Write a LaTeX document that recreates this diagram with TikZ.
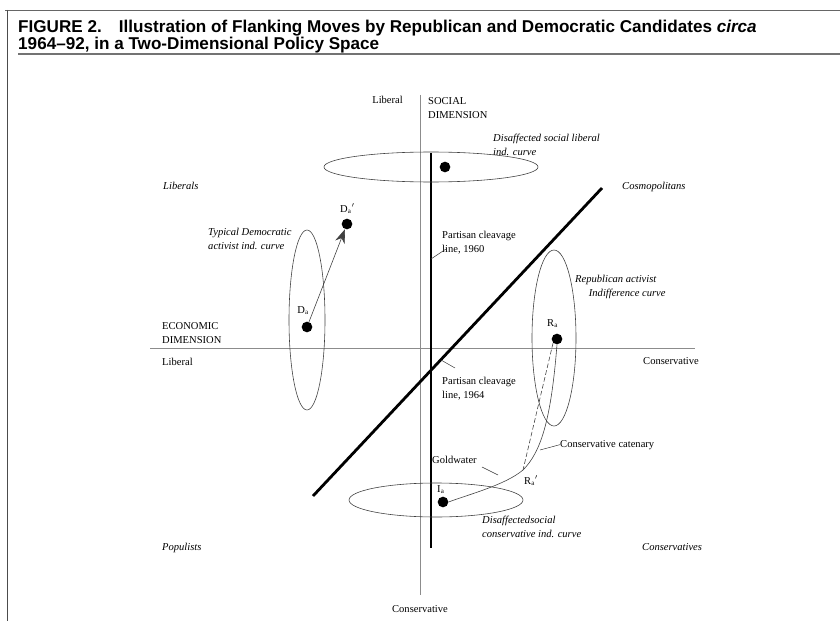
\documentclass[tikz,border=0pt]{standalone}
\usepackage{fontspec}
\setmainfont{Liberation Serif}
\newfontfamily\titlefont{Liberation Sans}
\usetikzlibrary{arrows.meta,positioning}

\begin{document}
\begin{tikzpicture}[>=Stealth, x=0.03cm, y=-0.03cm,
    txt/.style={font=\fontsize{9}{12}\selectfont, inner sep=0pt},
    itx/.style={font=\fontsize{9}{12}\selectfont\itshape, inner sep=0pt},
    dot/.style={circle, fill, inner sep=0pt, minimum size=3.2mm},
    axis/.style={black!45, line width=0.5pt},
    curve/.style={black!75, line width=0.5pt},
    cleave/.style={line width=2.4pt},
    leader/.style={black!80, line width=0.4pt}]
    \useasboundingbox (0,0) rectangle (840,621);

    % 边框与标题
    \draw[black!60, line width=0.8pt] (5,10) -- (840,10);
    \draw[black!70, line width=0.8pt] (7,10) -- (7,621);
    \node[anchor=north west, inner sep=0pt, align=left,
          font=\titlefont\bfseries\fontsize{14.6}{12.8}\selectfont] (title) at (18,20)
        {FIGURE 2.\hspace{1em}Illustration of Flanking Moves by Republican and Democratic Candidates \textit{circa}\\
         1964\textendash 92, in a Two-Dimensional Policy Space};
    \draw[black!55, line width=1.4pt] (18,54) -- (840,54);

    % 坐标轴
    \draw[axis] (420,95) -- (420,595);
    \draw[axis] (150,348) -- (695,348);
    \node[txt, anchor=base east] (socLib) at (403,104) {Liberal};
    \node[txt, anchor=north west, align=left] (socDim) at (428,97) {SOCIAL\\DIMENSION};
    \node[txt, anchor=base] (socCon) at (420,612) {Conservative};
    \node[txt, anchor=north west, align=left] (ecoDim) at (162,322) {ECONOMIC\\DIMENSION};
    \node[txt, anchor=base west] (ecoLib) at (162,365) {Liberal};
    \node[txt, anchor=base west] (ecoCon) at (643,364) {Conservative};

    % 四个象限
    \node[itx, anchor=base west] (liberals) at (163,189) {Liberals};
    \node[itx, anchor=base west] (cosmo) at (622,189) {Cosmopolitans};
    \node[itx, anchor=base west] (populists) at (162,550) {Populists};
    \node[itx, anchor=base west] (conservs) at (642,550) {Conservatives};

    % 分裂线
    \draw[cleave] (431,153) -- (431,548);
    \draw[cleave] (313,496) -- (602,188);
    \node[txt, anchor=north west, align=left] (p60) at (442,231) {Partisan cleavage\\line, 1960};
    \node[txt, anchor=north west, align=left] (p64) at (442,377) {Partisan cleavage\\line, 1964};
    \coordinate (on60) at (431,259);
    \coordinate (on64) at (441,360);
    \draw[leader] (on60) -- (446,249);
    \draw[leader] (on64) -- (455,368);

    % 无差异曲线
    \draw[curve] (431,167) ellipse [x radius=107, y radius=15];
    \draw[curve] (307,320) ellipse [x radius=18, y radius=90];
    \draw[curve] (554,338) ellipse [x radius=22, y radius=88];
    \draw[curve] (436,500) ellipse [x radius=87, y radius=17];
    \node[itx, anchor=north west, align=left] (socLibCurve) at (493,134)
        {Disaffected social liberal\\ind. curve};
    \node[itx, anchor=north west, align=left] (demCurve) at (208,228)
        {Typical Democratic\\activist ind. curve};
    \node[itx, anchor=north west, align=left] (repCurve) at (575,275)
        {Republican activist\\\hspace*{1.3em}Indifference curve};
    \node[itx, anchor=north west, align=left] (socConCurve) at (482,516)
        {Disaffectedsocial\\conservative ind. curve};

    % 候选人位置
    \node[dot] (Ds) at (445,167) {};
    \node[dot] (Da) at (307,327) {};
    \node[dot] (Dap) at (347,224) {};
    \node[dot] (Ra) at (557,339) {};
    \node[dot] (Ia) at (443,502) {};
    \coordinate (Rap) at (523,470);
    \node[txt, anchor=base east] (lDa) at (309,313) {D\textsubscript{a}};
    \node[txt, anchor=base west] (lDap) at (340,212) {D\textsubscript{a}$'$};
    \node[txt, anchor=base west] (lRa) at (547,326) {R\textsubscript{a}};
    \node[txt, anchor=base west] (lRap) at (524,484) {R\textsubscript{a}$'$};
    \node[txt, anchor=base west] (lIa) at (437,492) {I\textsubscript{a}};

    % 移动
    \draw[curve, -{Stealth[length=4.2mm, width=3mm]}] (Da) -- (Dap);
    \draw[curve, dash pattern=on 4pt off 2pt] (Ra.south west) -- (Rap);
    \draw[curve] (Ra.south) .. controls (551,420) and (541,452) .. (Rap)
        .. controls (505,485) and (470,494) .. (Ia.east);
    \node[txt, anchor=base west] (gold) at (432,463) {Goldwater};
    \node[txt, anchor=base west] (catenary) at (560,447) {Conservative catenary};
    \coordinate (onCat) at (540,450);
    \draw[leader] (onCat) -- (catenary.west);
    \draw[leader] (482,467) -- (498,475);
\end{tikzpicture}
\end{document}
